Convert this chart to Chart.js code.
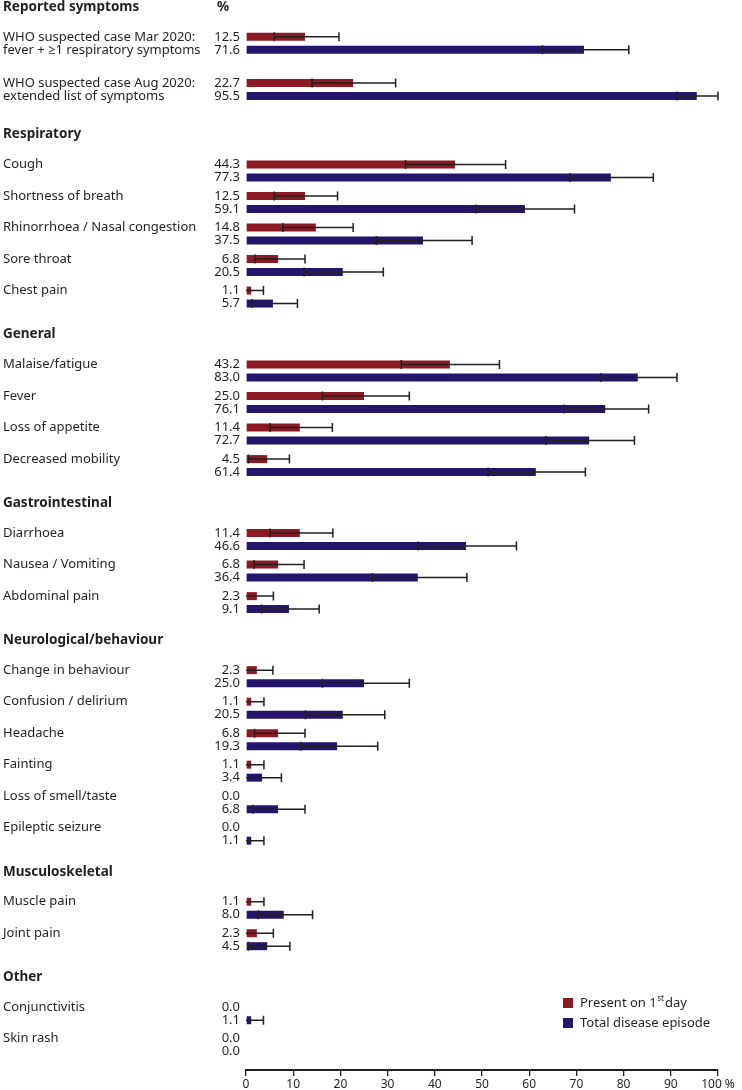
<!DOCTYPE html>
<html>
<head>
<meta charset="utf-8">
<script src="https://cdn.jsdelivr.net/npm/chart.js@4.4.0/dist/chart.umd.min.js"></script>
<style>
  html, body { margin: 0; padding: 0; background: #fff; }
  #chart { display: block; }
</style>
</head>
<body>
<canvas id="chart" width="742" height="1090"></canvas>
<script>
// --- Dane ---
const sections = ['Reported symptoms', 'Respiratory', 'General', 'Gastrointestinal',
  'Neurological/behaviour', 'Musculoskeletal', 'Other'];

const symptoms = [
  'WHO suspected case Mar 2020:\nfever + \u22651 respiratory symptoms',
  'WHO suspected case Aug 2020:\nextended list of symptoms',
  'Cough', 'Shortness of breath', 'Rhinorrhoea / Nasal congestion', 'Sore throat', 'Chest pain',
  'Malaise/fatigue', 'Fever', 'Loss of appetite', 'Decreased mobility',
  'Diarrhoea', 'Nausea / Vomiting', 'Abdominal pain',
  'Change in behaviour', 'Confusion / delirium', 'Headache', 'Fainting', 'Loss of smell/taste', 'Epileptic seizure',
  'Muscle pain', 'Joint pain',
  'Conjunctivitis', 'Skin rash'
];
const symptomSection = [0, 0, 1, 1, 1, 1, 1, 2, 2, 2, 2, 3, 3, 3, 4, 4, 4, 4, 4, 4, 5, 5, 6, 6];

const firstDay     = [12.5, 22.7, 44.3, 12.5, 14.8, 6.8, 1.1, 43.2, 25.0, 11.4, 4.5, 11.4, 6.8, 2.3, 2.3, 1.1, 6.8, 1.1, 0.0, 0.0, 1.1, 2.3, 0.0, 0.0];
const firstDayLow  = [6.0, 14.0, 33.8, 6.0, 7.8, 1.9, 0, 32.9, 16.2, 5.1, 0.5, 5.1, 1.7, 0, 0, 0, 1.8, 0, null, null, 0, 0, null, null];
const firstDayHigh = [19.7, 31.7, 55.0, 19.4, 22.7, 12.5, 3.7, 53.7, 34.6, 18.3, 9.2, 18.4, 12.3, 5.8, 5.7, 3.8, 12.5, 3.8, null, null, 3.8, 5.8, null, null];

const totalEpisode = [71.6, 95.5, 77.3, 59.1, 37.5, 20.5, 5.7, 83.0, 76.1, 72.7, 61.4, 46.6, 36.4, 9.1, 25.0, 20.5, 19.3, 3.4, 6.8, 1.1, 8.0, 4.5, 1.1, 0.0];
const totalLow     = [62.8, 91.3, 68.7, 48.8, 27.6, 12.3, 1.3, 75.2, 67.3, 63.6, 51.3, 36.5, 26.8, 3.3, 16.2, 12.6, 11.6, 0, 1.5, 0, 2.6, 0.5, 0, null];
const totalHigh    = [81.1, 100.0, 86.3, 69.6, 47.9, 29.1, 10.9, 91.3, 85.3, 82.3, 71.9, 57.3, 46.8, 15.5, 34.6, 29.4, 27.9, 7.5, 12.5, 3.8, 14.1, 9.3, 3.7, null];

const xTicks = [0, 10, 20, 30, 40, 50, 60, 70, 80, 90, 100];
const legendLabels = ['Present on 1st day', 'Total disease episode'];

// --- Kolory / układ ---
const RED = '#8c1a24';
const BLUE = '#24146c';
const INK = '#231f20';
const FONT = "'Noto Sans', 'Open Sans', sans-serif";

// Pozycje wierszy (w jednostkach osi Y: 1 = jeden wiersz objawu)
const ROW_STEP = 1;
const TWO_LINE_STEP = 1.467;
const SECTION_STEP = 2.35;
const TWO_LINE_EXTRA = 0.237;

const rowPos = [];
symptoms.forEach((label, i) => {
  if (i === 0) { rowPos.push(0); return; }
  const prevTwoLine = symptoms[i - 1].includes('\n');
  let step;
  if (symptomSection[i] !== symptomSection[i - 1]) {
    step = SECTION_STEP + (prevTwoLine ? TWO_LINE_EXTRA : 0);
  } else {
    step = prevTwoLine ? TWO_LINE_STEP : ROW_STEP;
  }
  rowPos.push(rowPos[i - 1] + step);
});

// --- Plugin: słupki błędów ---
const errorBars = {
  id: 'errorBars',
  afterDatasetsDraw(chart) {
    const ctx = chart.ctx;
    const xs = chart.scales.x;
    const ranges = [[firstDayLow, firstDayHigh], [totalLow, totalHigh]];
    ctx.save();
    ctx.strokeStyle = INK;
    ctx.lineWidth = 1.5;
    ranges.forEach(([lo, hi], d) => {
      const meta = chart.getDatasetMeta(d);
      meta.data.forEach((bar, i) => {
        if (lo[i] == null || hi[i] == null) return;
        const x1 = xs.getPixelForValue(lo[i]);
        const x2 = xs.getPixelForValue(hi[i]);
        const y = bar.y;
        ctx.beginPath();
        ctx.moveTo(x1, y);
        ctx.lineTo(x2, y);
        if (lo[i] > 0) {
          ctx.moveTo(x1, y - 4.5);
          ctx.lineTo(x1, y + 4.5);
        }
        ctx.moveTo(x2, y - 4.5);
        ctx.lineTo(x2, y + 4.5);
        ctx.stroke();
      });
    });
    ctx.restore();
  }
};

// --- Plugin: etykiety, nagłówki, legenda ---
const sideLabels = {
  id: 'sideLabels',
  afterDraw(chart) {
    const ctx = chart.ctx;
    const redMeta = chart.getDatasetMeta(0);
    const blueMeta = chart.getDatasetMeta(1);
    ctx.save();
    ctx.fillStyle = INK;
    ctx.textBaseline = 'middle';

    symptoms.forEach((label, i) => {
      const yRed = redMeta.data[i].y;
      const yBlue = blueMeta.data[i].y;
      ctx.font = '13px ' + FONT;
      ctx.textAlign = 'left';
      const lines = label.split('\n');
      ctx.fillText(lines[0], 3, yRed);
      if (lines[1]) ctx.fillText(lines[1], 3, yBlue);

      ctx.textAlign = 'right';
      ctx.fillText(firstDay[i].toFixed(1), 240, yRed);
      ctx.fillText(totalEpisode[i].toFixed(1), 240, yBlue);

      // nagłówek sekcji przed pierwszym wierszem
      if (i === 0 || symptomSection[i] !== symptomSection[i - 1]) {
        const yHead = yRed - 30;
        ctx.font = 'bold 13.5px ' + FONT;
        ctx.textAlign = 'left';
        ctx.fillText(sections[symptomSection[i]], 3, yHead);
        if (i === 0) ctx.fillText('%', 217, yHead);
      }
    });

    // legenda
    const lx = 563, ly = 1003;
    [RED, BLUE].forEach((c, k) => {
      const y = ly + k * 20;
      ctx.fillStyle = c;
      ctx.fillRect(lx, y - 5, 10, 10);
      ctx.fillStyle = INK;
      ctx.font = '13px ' + FONT;
      ctx.textAlign = 'left';
      if (k === 0) {
        // "1st" z indeksem górnym
        let x = lx + 17;
        const base = 'Present on 1';
        ctx.fillText(base, x, y);
        x += ctx.measureText(base).width;
        ctx.font = '8px ' + FONT;
        ctx.fillText('st', x + 0.5, y - 4);
        x += ctx.measureText('st').width + 1.5;
        ctx.font = '13px ' + FONT;
        ctx.fillText('day', x, y);
      } else {
        ctx.fillText(legendLabels[k], lx + 17, y);
      }
    });
    ctx.restore();
  }
};

const ctx = document.getElementById('chart');

new Chart(ctx, {
  type: 'bar',
  data: {
    datasets: [
      {
        label: legendLabels[0],
        data: firstDay.map((v, i) => ({ x: v, y: rowPos[i] })),
        backgroundColor: RED
      },
      {
        label: legendLabels[1],
        data: totalEpisode.map((v, i) => ({ x: v, y: rowPos[i] })),
        backgroundColor: BLUE
      }
    ]
  },
  options: {
    responsive: false,
    animation: false,
    indexAxis: 'y',
    barThickness: 13,
    maxBarThickness: 8,
    inflateAmount: 0,
    layout: { padding: { left: 246, right: 24, top: 0, bottom: 0 } },
    plugins: {
      legend: { display: false },
      tooltip: { enabled: false }
    },
    scales: {
      x: {
        type: 'linear',
        position: 'bottom',
        min: 0,
        max: 100,
        afterBuildTicks: (scale) => { scale.ticks = xTicks.map(v => ({ value: v })); },
        afterFit: (scale) => { scale.height = 20; },
        ticks: {
          autoSkip: false,
          maxRotation: 0,
          padding: 1,
          color: INK,
          font: { family: "'Liberation Sans Narrow', 'Noto Sans', sans-serif", size: 12 },
          callback: (v) => (v === 100 ? '100 %' : v)
        },
        grid: {
          drawOnChartArea: false,
          drawTicks: true,
          tickLength: 6,
          color: INK,
          lineWidth: 1.3
        },
        border: { color: INK, width: 2 }
      },
      y: {
        type: 'linear',
        display: false,
        offset: false,
        reverse: true,
        min: -1.375,
        max: 32.59
      }
    }
  },
  plugins: [errorBars, sideLabels]
});
</script>
</body>
</html>
